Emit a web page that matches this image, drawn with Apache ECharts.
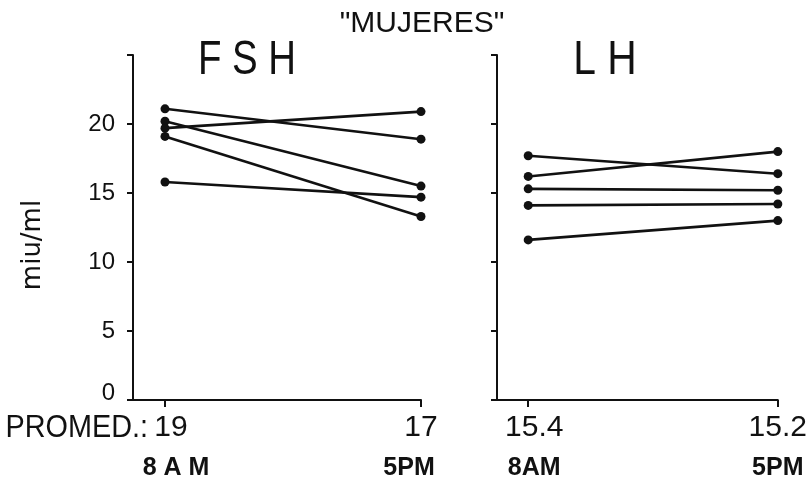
<!DOCTYPE html>
<html><head><meta charset="utf-8">
<script src="https://cdn.jsdelivr.net/npm/echarts@6/dist/echarts.min.js"></script>
<style>html,body{margin:0;padding:0;background:#fff}#c{width:810px;height:483px}</style>
</head><body><div id="c"></div>
<script>
// ---- data ----
const timePos = [0, 1];
const fshLabelsTime = ['8 A M', '5PM'];
const lhLabelsTime = ['8AM', '5PM'];
const fshMeans = ['19', '17'];
const lhMeans = ['15.4', '15.2'];
const fshAM = [21.1, 20.2, 19.7, 19.1, 15.8];
const fshPM = [18.9, 15.5, 20.9, 13.3, 14.7];
const lhAM = [17.7, 16.2, 15.3, 14.1, 11.6];
const lhPM = [16.4, 18.0, 15.2, 14.2, 13.0];
const yTickLabels = [0, 5, 10, 15, 20];
const yMax = 25;

const SANS = '"Liberation Sans", Arial, sans-serif';
const INK = '#111';

function makeSeries(am, pm, axisIdx) {
  return am.map((v, i) => ({
    type: 'line',
    xAxisIndex: axisIdx, yAxisIndex: axisIdx,
    data: [[timePos[0], v], [timePos[1], pm[i]]],
    symbol: 'circle', symbolSize: 9,
    lineStyle: { color: INK, width: 2.6 },
    itemStyle: { color: INK },
    silent: true, animation: false
  }));
}

function xAxisFor(gridIndex, means, times, vPad, tPad) {
  return {
    type: 'value', gridIndex, min: -0.125, max: 1,
    axisLine: { show: true, onZero: false, lineStyle: { color: INK, width: 2 } },
    axisTick: { show: true, customValues: timePos, length: 7, lineStyle: { color: INK, width: 2 } },
    splitLine: { show: false },
    axisLabel: {
      show: true, customValues: timePos, margin: 11,
      formatter: (val) => {
        const i = timePos.indexOf(Math.round(val));
        return '{v' + i + '|' + means[i] + '}\n{t' + i + '|' + times[i] + '}';
      },
      rich: {
        v0: { fontSize: 30, lineHeight: 34, fontFamily: SANS, color: INK, padding: vPad[0] },
        v1: { fontSize: 30, lineHeight: 34, fontFamily: SANS, color: INK, padding: vPad[1] },
        t0: { fontSize: 25, lineHeight: 46, fontFamily: SANS, fontWeight: 'bold', color: INK, padding: tPad[0] },
        t1: { fontSize: 25, lineHeight: 46, fontFamily: SANS, fontWeight: 'bold', color: INK, padding: tPad[1] }
      }
    }
  };
}

function yAxisFor(gridIndex, showLabels) {
  const ax = {
    type: 'value', gridIndex, min: 0, max: yMax, interval: 5,
    axisLine: { show: true, onZero: false, lineStyle: { color: INK, width: 2 } },
    axisTick: { show: true, length: 6, lineStyle: { color: INK, width: 2 } },
    splitLine: { show: false },
    axisLabel: { show: false }
  };
  if (showLabels) {
    ax.axisLabel = {
      show: true, customValues: yTickLabels, margin: 18,
      fontSize: 24, fontFamily: SANS, color: INK,
      formatter: (v) => v === 0 ? '{z|0}' : String(v),
      rich: { z: { fontSize: 24, fontFamily: SANS, color: INK, padding: [0, 0, 14, 12] } }
    };
  }
  return ax;
}

const chart = echarts.init(document.getElementById('c'), null, { renderer: 'canvas' });
chart.setOption({
  backgroundColor: '#fff',
  animation: false,
  grid: [
    { left: 133, top: 55, width: 288, height: 345 },
    { left: 497, top: 55, width: 285, height: 345 }
  ],
  xAxis: [
    xAxisFor(0, fshMeans, fshLabelsTime, [[0, 0, 0, 12], [0, 0, 0, 0]], [[0, 0, 0, 22], [0, 24, 0, 0]]),
    xAxisFor(1, lhMeans, lhLabelsTime, [[0, 0, 0, 12], [0, 0, 0, 0]], [[0, 0, 0, 12], [0, 0, 0, 0]])
  ],
  yAxis: [yAxisFor(0, true), yAxisFor(1, false)],
  series: [...makeSeries(fshAM, fshPM, 0), ...makeSeries(lhAM, lhPM, 1)],
  graphic: [
    { type: 'text', x: 422, y: 24, style: { text: '"MUJERES"', font: '30px ' + SANS, fill: INK, align: 'center', verticalAlign: 'middle' } },
    { type: 'text', x: 247, y: 61, scaleX: 0.8, style: { text: 'F S H', font: '48px ' + SANS, fill: INK, align: 'center', verticalAlign: 'middle' } },
    { type: 'text', x: 605, y: 61, scaleX: 0.85, style: { text: 'L H', font: '48px ' + SANS, fill: INK, align: 'center', verticalAlign: 'middle' } },
    { type: 'text', x: 148, y: 428, scaleX: 0.93, style: { text: 'PROMED.:', font: '31px ' + SANS, fill: INK, align: 'right', verticalAlign: 'middle' } },
    { type: 'text', x: 33, y: 245, rotation: Math.PI / 2, style: { text: 'miu/ml', font: '26px "DejaVu Sans", sans-serif', fill: INK, align: 'center', verticalAlign: 'middle' } }
  ]
});
</script></body></html>
